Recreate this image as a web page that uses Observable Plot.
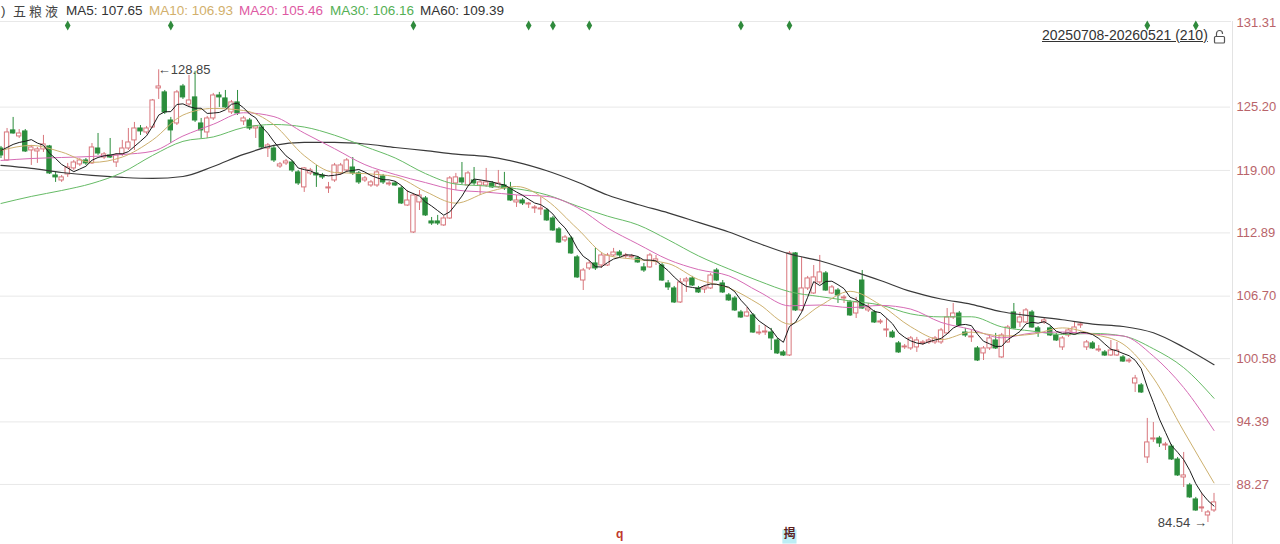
<!DOCTYPE html>
<html><head><meta charset="utf-8">
<script src="https://cdn.jsdelivr.net/npm/d3@7"></script>
<script src="https://cdn.jsdelivr.net/npm/@observablehq/plot@0.6"></script>
<style>
body{margin:0;background:#fff;}
#wrap{position:relative;width:1280px;height:544px;overflow:hidden;font-family:"Liberation Sans",Arial,"Noto Sans CJK SC",sans-serif;}
#chart{position:absolute;left:0;top:0;}
.hd{position:absolute;top:3px;font-size:13.5px;white-space:nowrap;line-height:16px;}
#range{position:absolute;left:1042px;top:27px;font-size:14px;color:#333;text-decoration:underline;white-space:nowrap;line-height:16px;}
</style></head><body>
<div id="wrap"><div id="chart"></div></div>
<script>
// ---- data (visible candles, oldest to newest) ----
const open = [
121.15,119.98,122.92,122.33,122.82,120.96,120.86,121.06,121.35,118.51,
118.02,118.61,119.20,119.59,119.98,119.69,121.15,120.27,120.47,119.78,
120.57,121.15,121.94,123.11,122.72,123.21,127.03,126.64,123.89,123.60,
127.22,125.46,126.15,123.60,122.72,124.09,126.34,126.05,124.68,125.66,
123.80,123.89,123.11,123.21,121.15,121.15,119.39,119.69,119.78,118.81,
117.34,118.71,118.71,118.51,117.24,118.02,118.71,119.00,119.29,118.71,
118.02,117.53,117.53,118.41,117.63,117.73,117.24,115.57,112.93,115.87,
116.26,114.01,114.01,113.62,114.30,117.73,118.22,117.53,118.02,117.53,
117.53,117.73,117.34,117.53,117.24,115.87,116.06,115.67,115.28,115.18,
115.08,114.30,113.23,112.15,112.34,110.49,108.23,109.41,109.90,109.70,
109.70,110.68,110.97,110.58,110.49,110.39,109.51,109.51,110.09,109.70,
107.94,107.45,106.08,108.14,108.43,107.45,107.35,107.45,109.21,107.94,
106.77,106.47,105.10,104.71,104.81,103.05,103.14,103.14,102.36,101.19,
100.89,110.88,105.30,107.45,106.96,108.04,108.92,106.96,107.25,106.47,
106.08,105.00,108.23,105.30,105.10,104.12,103.34,103.14,102.07,101.68,
101.58,101.68,102.07,102.17,102.17,102.17,103.05,104.61,105.00,103.14,
102.66,101.58,101.09,101.58,102.36,100.70,102.17,105.10,104.12,104.12,
105.10,103.54,104.12,103.54,102.85,101.68,102.85,103.05,103.83,101.68,
102.07,101.38,101.19,100.89,100.89,100.70,100.30,98.15,97.96,90.91,
92.67,92.77,92.08,91.98,90.71,88.95,88.17,86.80,85.92,85.23,
85.72];
const high = [
121.35,123.11,124.19,123.01,123.01,121.45,121.25,122.43,121.45,118.81,
118.51,119.69,119.98,120.17,120.17,121.64,122.62,120.76,122.13,120.66,
121.94,123.11,123.70,123.40,123.31,125.95,128.85,126.83,124.19,126.83,
127.42,128.30,128.70,124.09,124.29,126.54,126.64,126.83,125.85,126.83,
124.29,124.09,123.40,123.40,121.64,121.35,119.78,120.08,119.98,119.00,
119.29,119.20,119.49,118.71,117.83,119.69,119.69,120.17,120.27,118.90,
118.41,118.02,119.00,118.61,117.92,117.92,117.44,117.04,116.75,117.04,
116.45,114.40,114.60,114.50,118.41,118.71,119.78,118.90,119.29,118.02,
119.20,117.92,119.00,118.81,117.83,116.55,116.26,115.87,115.57,116.36,
115.28,114.50,113.42,112.64,112.54,110.68,109.41,110.19,111.37,110.88,
110.88,111.37,111.17,110.88,110.78,110.58,109.90,110.88,110.68,109.90,
108.23,107.65,108.43,108.53,108.63,107.65,107.74,108.92,109.41,108.23,
106.96,106.67,105.30,105.59,105.00,103.83,103.83,103.54,102.56,101.38,
111.07,110.97,110.49,108.63,109.70,110.68,109.11,107.74,107.45,106.77,
106.28,106.57,109.21,105.98,105.30,104.42,104.51,103.34,102.26,101.97,
102.75,102.66,102.36,102.56,102.75,103.54,105.49,105.98,105.20,103.54,
103.34,101.77,101.77,102.75,103.05,103.05,103.83,105.98,105.10,105.49,
105.30,103.73,104.51,103.73,103.05,102.75,103.54,104.12,104.12,102.36,
102.26,101.87,101.38,102.36,102.17,100.89,100.60,98.94,98.15,94.73,
94.33,92.97,92.38,92.18,90.91,91.40,88.37,87.00,87.39,85.72,
87.39];
const low = [
120.17,119.90,122.55,122.13,120.76,119.49,119.69,120.76,118.61,117.83,
117.83,118.32,119.00,119.39,119.49,119.59,120.47,120.08,120.17,119.29,
120.37,120.96,120.96,122.43,122.52,123.11,125.95,124.48,121.64,123.40,
125.95,125.27,123.70,122.13,122.13,123.89,125.17,125.07,124.48,124.38,
123.40,122.92,122.13,121.15,120.27,119.78,119.20,119.49,118.81,117.53,
116.85,118.51,117.34,118.12,116.75,117.83,118.51,118.81,118.51,117.63,
117.83,117.34,117.34,117.63,117.44,117.44,115.67,115.48,112.83,115.08,
114.50,113.62,113.62,113.52,114.20,117.04,117.63,117.44,117.53,116.55,
117.34,117.24,117.24,117.04,115.97,115.38,115.57,115.28,114.79,114.60,
114.01,113.03,111.85,111.95,110.78,108.43,107.25,109.21,109.21,109.41,
109.60,110.58,110.49,110.39,110.39,109.90,109.02,109.41,109.70,108.14,
107.25,105.98,105.98,107.06,107.65,106.96,106.96,107.35,108.14,106.96,
106.18,105.20,104.51,104.61,103.05,102.85,102.85,101.38,100.99,100.79,
100.79,105.20,105.20,107.25,106.86,107.84,107.16,106.86,105.98,105.98,
104.71,104.51,105.40,105.10,104.03,103.93,102.66,102.56,101.09,101.48,
101.38,101.19,101.87,101.97,101.97,101.97,102.95,104.42,103.73,102.66,
102.17,100.30,100.40,101.38,101.48,100.60,102.07,103.44,103.63,104.03,
103.54,102.66,103.93,102.75,102.26,101.38,102.66,102.95,103.54,101.38,
101.48,101.19,100.79,100.79,100.79,100.21,100.11,97.27,97.17,90.32,
92.38,91.89,91.59,90.62,89.05,87.97,86.90,85.63,85.53,84.54,
85.53];
const close = [
120.47,122.72,122.62,122.62,120.86,121.25,121.06,121.55,118.71,118.32,
118.32,119.29,119.78,119.98,119.69,121.25,120.66,120.57,120.27,120.47,
121.15,121.74,123.11,122.82,123.11,125.85,127.22,124.68,122.92,126.64,
126.15,125.85,123.89,122.92,124.09,126.34,126.15,125.17,125.66,124.58,
124.09,123.11,123.31,121.25,121.45,119.98,119.59,119.88,119.00,117.73,
119.20,119.00,118.51,118.32,117.34,119.49,119.49,119.98,118.71,117.83,
118.22,117.83,118.81,117.83,117.73,117.53,115.77,116.06,116.55,116.55,
114.60,113.81,113.81,114.30,118.22,118.32,117.83,118.71,117.73,117.83,
117.83,117.34,117.73,117.24,116.06,116.06,115.77,115.77,115.38,115.28,
114.11,113.13,111.95,112.44,110.88,108.53,109.21,109.90,109.41,110.68,
110.68,110.97,110.68,110.68,110.58,110.00,109.21,110.68,110.29,108.23,
107.55,106.08,108.04,108.33,107.74,107.06,107.55,108.72,108.23,107.06,
106.28,105.30,104.61,105.10,103.14,103.14,103.24,102.56,101.09,100.89,
110.88,105.30,107.45,108.43,108.53,109.02,107.25,107.55,106.77,106.57,
104.81,106.08,105.49,105.49,104.12,104.22,103.44,102.66,101.19,101.77,
102.56,102.36,102.17,102.36,102.56,103.34,104.61,105.00,103.83,102.85,
102.75,100.40,101.58,102.56,101.58,102.85,103.63,103.54,104.61,105.30,
103.63,103.14,104.32,102.85,102.36,102.56,103.34,103.63,103.93,102.17,
101.58,101.48,100.89,101.38,101.38,100.30,100.40,98.64,97.27,92.38,
92.77,92.28,92.18,90.71,89.15,89.15,87.00,85.72,86.02,85.53,
86.51];

// MA5 read at every candle
const ma5 = [
120.96,121.25,121.55,121.74,121.86,122.02,121.68,121.47,120.68,120.17,
119.59,119.24,118.88,119.14,119.41,120.00,120.27,120.43,120.49,120.64,
120.63,120.84,121.35,121.86,122.39,123.33,124.42,124.74,124.76,125.46,
125.52,125.25,125.09,125.09,124.58,124.62,124.68,124.93,125.48,125.58,
125.13,124.52,124.15,123.27,122.64,121.82,121.11,120.43,119.98,119.24,
119.08,118.96,118.69,118.55,118.47,118.53,118.63,118.92,119.00,119.10,
118.84,118.51,118.28,118.10,118.08,117.94,117.53,116.98,116.73,116.49,
115.91,115.52,115.07,114.62,114.95,115.69,116.49,117.47,118.16,118.08,
117.98,117.88,117.69,117.59,117.24,116.89,116.57,116.18,115.81,115.65,
115.26,114.73,113.97,113.38,112.50,111.39,110.60,110.19,109.58,109.55,
109.98,110.33,110.49,110.74,110.72,110.58,110.23,110.23,110.15,109.68,
109.19,108.57,108.04,107.65,107.55,107.45,107.74,107.88,107.86,107.72,
107.57,107.12,106.30,105.67,104.89,104.26,103.85,103.44,102.63,102.18,
103.73,104.14,105.12,106.59,108.12,107.74,108.14,108.16,107.82,107.43,
106.59,106.35,105.94,105.69,105.20,105.08,104.55,103.99,103.12,102.66,
102.32,102.11,102.01,102.24,102.40,102.56,103.01,103.57,103.87,103.93,
103.81,102.97,102.28,102.03,101.77,101.79,102.44,102.83,103.24,103.99,
104.14,104.05,104.20,103.85,103.26,103.05,103.09,102.95,103.16,103.12,
102.93,102.56,102.01,101.50,101.34,101.09,100.87,100.42,99.60,97.80,
96.29,94.67,93.37,92.06,91.42,90.69,89.64,88.34,87.40,86.68,
86.15];

// longer moving averages at every 5th candle
const maIndex = [0,5,10,15,20,25,30,35,40,45,50,55,60,65,70,75,80,85,90,95,100,105,110,115,120,125,130,135,140,145,150,155,160,165,170,175,180,185,190,195,200];
const ma10 = [120.96,121.45,120.80,119.79,120.31,121.98,124.42,125.07,124.87,123.47,120.45,118.80,118.69,118.39,116.93,115.80,116.84,117.43,116.07,113.32,110.68,110.28,109.89,108.32,107.51,105.91,103.96,105.74,107.17,105.84,103.70,102.44,103.18,102.80,102.97,103.59,102.99,102.01,98.69,93.49,88.42];
const ma20 = [119.98,120.17,120.27,120.37,120.56,120.88,122.37,123.52,124.65,124.27,122.66,121.13,119.57,118.60,117.81,117.09,116.88,116.61,116.46,115.38,113.37,111.80,110.28,109.30,108.69,107.12,105.75,105.83,105.58,105.79,105.43,104.13,103.44,102.62,103.08,103.19,102.98,102.80,100.83,97.75,93.55];
const ma30 = [115.77,116.46,117.04,117.73,118.80,120.47,121.85,122.28,123.20,123.50,123.25,122.45,121.34,120.22,118.69,117.67,117.48,117.21,116.61,115.52,114.53,113.68,112.22,110.64,109.36,108.17,107.13,106.66,106.23,105.83,104.96,104.67,104.68,103.69,103.28,102.95,103.05,102.80,101.55,99.70,96.70];
const ma60 = [119.49,119.20,118.80,118.51,118.32,118.22,118.41,119.39,120.57,121.45,121.74,121.74,121.59,121.25,120.94,120.59,120.37,119.82,118.97,117.87,116.60,115.67,114.85,113.92,112.98,111.85,110.83,110.16,109.22,108.23,107.16,106.42,105.90,105.17,104.75,104.39,103.96,103.73,103.11,101.70,99.99];

const yTickValues = [125.20,119.00,112.89,106.70,100.58,94.39,88.27];
const yTickLabels = ["125.20","119.00","112.89","106.70","100.58","94.39","88.27"];
const yTopLabel = "131.31";

const stockName = "五粮液";
const maNames = ["MA5","MA10","MA20","MA30","MA60"];
const maHeaderValues = ["107.65","106.93","105.46","106.16","109.39"];
const dateRange = "20250708-20260521 (210)";
const markerIdx = [11,28,68,87,91,97,122,130,189,197];
const eventIdx = [102,130];
const eventText = ["q","揭"];

// ---- styles ----
const RED = "#d8767c", GREEN = "#2b8d3c", AXIS = "#b9646a";
const maColors = {ma5: "#1c1c1c", ma10: "#cdb06e", ma20: "#d66bb5", ma30: "#66bb66", ma60: "#3a3a3a"};
const hdColors = ["#333","#d2b06c","#de5aa3","#55b055","#333"];
const hdX = [66,149,239,330,420];

const candles = close.map((c, i) => ({i, open: open[i], high: high[i], low: low[i], close: c, ma5: ma5[i]}));
const up = candles.filter(d => d.close >= d.open);
const down = candles.filter(d => d.close < d.open);
const maRows = maIndex.map((i, k) => ({i, ma10: ma10[k], ma20: ma20[k], ma30: ma30[k], ma60: ma60[k]}));
const ticks = yTickValues.map((v, k) => ({v, label: yTickLabels[k]}));
const hi = d3.maxIndex(high), lo = d3.minIndex(low);
const W = 0.36;

const chart = Plot.plot({
  width: 1280, height: 544,
  marginTop: 21, marginBottom: 0, marginLeft: 0, marginRight: 50,
  x: {domain: [-0.082, 202.72], axis: null},
  y: {domain: [82.39, 133.58], axis: null},
  style: {background: "transparent", fontFamily: '"Liberation Sans", Arial, "Noto Sans CJK SC", sans-serif', fontSize: "13px", overflow: "visible"},
  marks: [
    Plot.ruleY(ticks, {y: "v", stroke: "#e8e8e8"}),
    Plot.frame({anchor: "top", stroke: "#e8e8e8"}),
    Plot.frame({anchor: "right", stroke: "#e3e3e3", dx: 2}),
    Plot.text(ticks, {y: "v", text: "label", frameAnchor: "right", dx: 6, textAnchor: "start", fill: AXIS, fontSize: 13}),
    Plot.text([yTopLabel], {text: d => d, frameAnchor: "top-right", lineAnchor: "middle", dx: 6, dy: 1, textAnchor: "start", fill: AXIS, fontSize: 13}),
    Plot.dot(markerIdx, {x: d => d, frameAnchor: "top", dy: 4, symbol: "diamond", r: 3, fill: "#2f8a3c"}),
    Plot.ruleX(up, {x: "i", y1: "low", y2: "high", stroke: RED}),
    Plot.ruleX(down, {x: "i", y1: "low", y2: "high", stroke: GREEN}),
    Plot.rect(up, {x1: d => d.i - W, x2: d => d.i + W, y1: "open", y2: "close", fill: "white", stroke: RED}),
    Plot.rect(down, {x1: d => d.i - W, x2: d => d.i + W, y1: "open", y2: "close", fill: GREEN, stroke: GREEN}),
    ...["ma60","ma30","ma20","ma10"].map((k) => Plot.line(maRows, {x: "i", y: k, stroke: maColors[k], strokeWidth: k === "ma60" ? 1.2 : 1, curve: "monotone-x"})),
    Plot.line(candles, {x: "i", y: "ma5", stroke: maColors.ma5, strokeWidth: 1}),
    Plot.text([hi], {x: d => d, y: d => high[d], text: d => "←" + high[d].toFixed(2), textAnchor: "start", dx: -1, fill: "#444", fontSize: 13}),
    Plot.text([lo], {x: d => d, y: d => low[d], text: d => low[d].toFixed(2) + " →", textAnchor: "end", dx: -1, fill: "#444", fontSize: 13}),
    Plot.dot([eventIdx[1]], {x: d => d, frameAnchor: "bottom", dy: -8, symbol: "square", r: 8, fill: "#bdeef5"}),
    Plot.text(eventIdx, {x: d => d, frameAnchor: "bottom", dy: -7, text: (d, k) => eventText[k], fill: (d, k) => k === 0 ? "#c0392b" : "#5b1e1e", fontWeight: "bold", fontSize: 12})
  ]
});
const wrap = document.getElementById("wrap");
document.getElementById("chart").appendChild(chart);

function addDiv(cls, left, color, text, extra) {
  const el = document.createElement("div");
  el.className = cls; el.style.left = left + "px"; el.style.color = color; el.textContent = text;
  if (extra) Object.assign(el.style, extra);
  wrap.appendChild(el);
}
addDiv("hd", 1, "#444", ")");
addDiv("hd", 13, "#444", stockName, {fontSize: "13px", letterSpacing: "3px", fontFamily: '"Noto Sans CJK SC", sans-serif'});
maNames.forEach((m, k) => addDiv("hd", hdX[k], hdColors[k], m + ": " + maHeaderValues[k]));
const r = document.createElement("div"); r.id = "range"; r.textContent = dateRange; wrap.appendChild(r);
const lock = document.createElementNS("http://www.w3.org/2000/svg", "svg");
lock.setAttribute("width", "15"); lock.setAttribute("height", "15");
lock.innerHTML = '<path d="M4.5 7 V4.5 a3 3 0 0 1 6 0 V5" fill="none" stroke="#555" stroke-width="1.2"/><rect x="2.5" y="7.5" width="10" height="6.5" rx="1" fill="none" stroke="#555" stroke-width="1.2"/>';
lock.style.position = "absolute"; lock.style.left = "1212px"; lock.style.top = "29px";
wrap.appendChild(lock);
</script>
</body></html>
